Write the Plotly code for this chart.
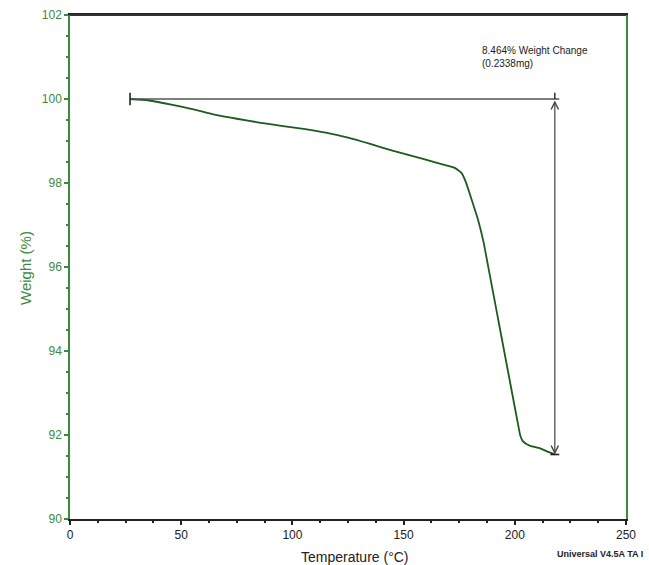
import plotly.graph_objects as go

# Data
temperature = [27, 35, 45, 55, 65, 75, 85, 95, 105, 115, 125, 135, 145, 155, 165, 170, 173, 176, 178, 180, 183.5, 186, 188, 190, 192, 194, 196, 198, 200, 201.5, 202.5, 203.5, 205, 207, 211.4, 215, 218]
weight = [100.0, 99.97, 99.87, 99.76, 99.63, 99.53, 99.44, 99.36, 99.29, 99.2, 99.08, 98.93, 98.77, 98.63, 98.48, 98.41, 98.36, 98.24, 98.02, 97.7, 97.12, 96.58, 96.02, 95.46, 94.9, 94.34, 93.78, 93.22, 92.66, 92.24, 91.98, 91.86, 91.79, 91.74, 91.68, 91.6, 91.54]

change_temps = [27, 218]
change_weights = [100.0, 91.536]
change_label = "8.464% Weight Change<br>(0.2338mg)"

x_ticks = [0, 50, 100, 150, 200, 250]
y_ticks = [90, 92, 94, 96, 98, 100, 102]

GREEN_AX = "#3c8a3c"
GREEN_LINE = "#1f5a1f"
FONT = "Liberation Sans Narrow, Liberation Sans, Arial, sans-serif"

fig = go.Figure()

fig.add_trace(go.Scatter(x=temperature, y=weight, mode="lines", line_shape="spline",
                         line=dict(color=GREEN_LINE, width=1.8, smoothing=0.4), hoverinfo="skip",
                         showlegend=False))

t0, t1 = change_temps
w0, w1 = change_weights
cap_dx = 2.0
cap_dy = 0.15
# horizontal reference line with start bar
fig.add_trace(go.Scatter(x=[t0, t1 + cap_dx], y=[w0, w0], mode="lines",
                         line=dict(color="#555555", width=1.6), showlegend=False, hoverinfo="skip"))
fig.add_trace(go.Scatter(x=[t0, t0], y=[w0 - cap_dy, w0 + cap_dy], mode="lines",
                         line=dict(color="#222222", width=1.6), showlegend=False, hoverinfo="skip"))
fig.add_trace(go.Scatter(x=[t1, t1], y=[w0, w0 + cap_dy], mode="lines",
                         line=dict(color="#222222", width=1.4), showlegend=False, hoverinfo="skip"))
fig.add_trace(go.Scatter(x=[t1 - cap_dx, t1 + cap_dx], y=[w1, w1], mode="lines",
                         line=dict(color="#222222", width=1.6), showlegend=False, hoverinfo="skip"))

# double arrow
fig.add_annotation(x=t1, y=w1, ax=t1, ay=w0, xref="x", yref="y", axref="x", ayref="y",
                   showarrow=True, arrowhead=5, startarrowhead=5, arrowside="end+start",
                   arrowsize=1.2, startarrowsize=1.2, arrowwidth=1.2, arrowcolor="#444444", text="")

fig.add_annotation(x=184.3, y=101.0, xref="x", yref="y", text=change_label, showarrow=False,
                   xanchor="left", yanchor="middle", align="left",
                   font=dict(family=FONT, size=10, color="#222222"))

fig.add_annotation(x=1.0, y=0, xref="paper", yref="paper", xshift=19, yshift=-35,
                   text="<b>Universal V4.5A TA I</b>", showarrow=False, xanchor="right",
                   yanchor="middle", font=dict(family=FONT, size=9, color="#222222"))

# axis titles
fig.add_annotation(x=0.5, y=0, xref="paper", yref="paper", xshift=7, yshift=-38,
                   text="Temperature (°C)", showarrow=False, xanchor="center", yanchor="middle",
                   font=dict(family=FONT, size=14, color="#222222"))
fig.add_annotation(x=0, y=0.5, xref="paper", yref="paper", xshift=-45, yshift=-1,
                   text="Weight (%)", showarrow=False, textangle=-90, xanchor="center", yanchor="middle",
                   font=dict(family=FONT, size=15, color=GREEN_AX))

fig.update_xaxes(range=[0, 250], tickvals=x_ticks, ticktext=[str(v) for v in x_ticks],
                 showgrid=False, zeroline=False, showline=True, linecolor="#222222", linewidth=2,
                 mirror=True, ticks="outside", ticklen=4, tickwidth=1.5, tickcolor="#222222",
                 minor=dict(dtick=12.5, ticks="outside", ticklen=2, tickcolor="#222222", tickwidth=1.5),
                 tickfont=dict(family=FONT, size=12, color="#222222"), automargin=False)
fig.update_yaxes(range=[90, 102], tickvals=y_ticks, ticktext=[str(v) for v in y_ticks],
                 showgrid=False, zeroline=False, showline=True, linecolor=GREEN_AX, linewidth=1.5,
                 mirror=True, ticks="outside", ticklen=4, tickwidth=1.5, tickcolor=GREEN_AX,
                 minor=dict(dtick=0.5, ticks="outside", ticklen=2, tickcolor=GREEN_AX, tickwidth=1.5),
                 tickfont=dict(family=FONT, size=12, color=GREEN_AX), automargin=False)

fig.update_layout(width=649, height=565, margin=dict(l=70, r=23, t=15, b=46),
                  plot_bgcolor="white", paper_bgcolor="white", showlegend=False)

# top border black
fig.add_shape(type="line", xref="paper", yref="paper", x0=0, x1=1, y0=1, y1=1,
              line=dict(color="#333333", width=2))

fig.write_html("out.html")
